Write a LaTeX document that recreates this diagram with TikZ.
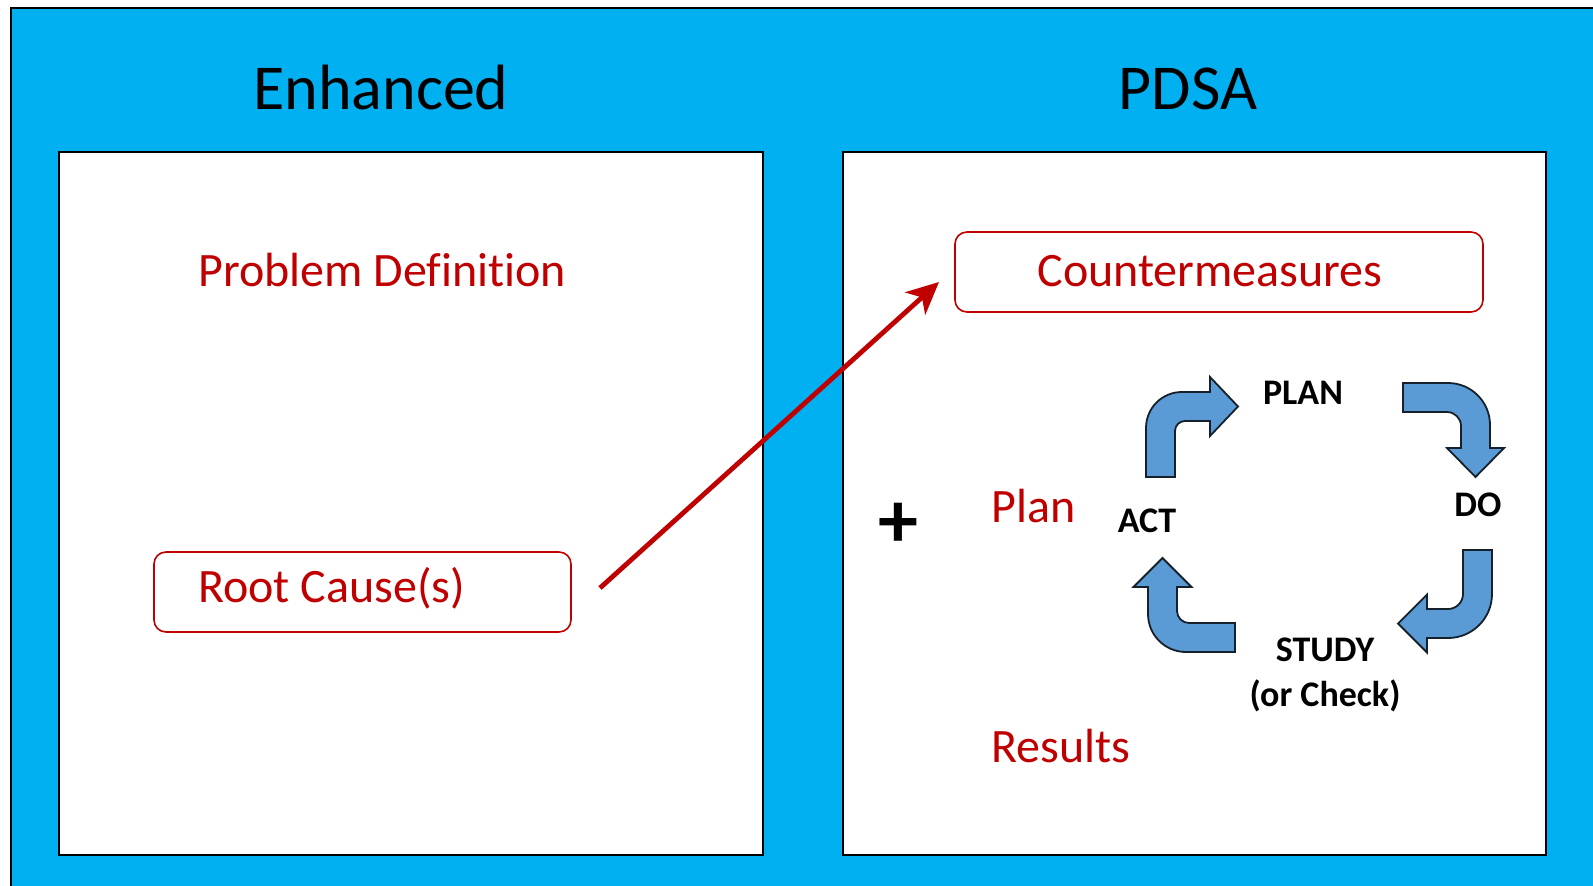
\documentclass[tikz,border=0pt]{standalone}
\usepackage{fontspec}
\setmainfont{Carlito}[Ligatures={NoCommon}]
\usetikzlibrary{arrows.meta}
\definecolor{skyfill}{HTML}{00B0F0}
\definecolor{darkred}{HTML}{C00000}
\definecolor{cycleblue}{HTML}{5B9BD5}
\definecolor{cycleedge}{HTML}{15202B}
\begin{document}
\begin{tikzpicture}[x=1pt,y=-1pt,
  panel/.style={draw=black,line width=2pt,fill=white},
  title/.style={anchor=base,font=\fontsize{64}{72}\selectfont,text=black,inner sep=0pt},
  redtext/.style={font=\fontsize{48}{55}\selectfont,text=darkred,inner sep=0pt},
  redbox/.style={draw=darkred,line width=1.6pt,rounded corners=12pt,fill=white},
  steplabel/.style={anchor=base,font=\fontsize{36}{41}\selectfont\bfseries,text=black,inner sep=0pt},
  cyclearrow/.style={fill=cycleblue,draw=cycleedge,line width=1.8pt,line join=miter},
  link/.style={draw=darkred,line width=4.8pt,-{Stealth[length=32pt,width=30pt,inset=9pt]}}
]
% page and blue backdrop
\useasboundingbox (0,0) rectangle (1593,886);
\fill[white] (0,0) rectangle (1593,886);
\filldraw[fill=skyfill,draw=black,line width=1.6pt] (11,8) rectangle (1605,900);

% two panels
\draw[panel] (59,152) rectangle (763,855);
\draw[panel] (843,152) rectangle (1546,855);

% headings
\node[title] (enh) at (381,109) {Enhanced};
\node[title] (pdsa) at (1188,109) {PDSA};

% left panel
\node[redtext,anchor=base west] (probdef) at (198,286) {Problem Definition};
\draw[redbox] (154,552) rectangle (571,632);
\node[redtext,anchor=base west] (root) at (198,602) {Root Cause(s)};

% right panel
\draw[redbox] (955,232) rectangle (1483,312);
\node[redtext,anchor=base] (cm) at (1210,286) {Countermeasures};
\node[anchor=base,font=\fontsize{80}{90}\selectfont\bfseries,inner sep=0pt] (plus) at (898,547) {+};
\node[redtext,anchor=base west] (plan) at (991,522) {Plan};
\node[redtext,anchor=base west] (res) at (991,762) {Results};

% cycle labels
\node[steplabel] (lp) at (1303,404) {PLAN};
\node[steplabel] (ld) at (1478,516) {DO};
\node[steplabel] (la) at (1147,532) {ACT};
\node[steplabel] (ls) at (1325,661) {STUDY};
\node[steplabel] (lc) at (1325,706) {(or Check)};

% cycle arrows
\draw[cyclearrow] (1146,477) -- (1146,428)
  .. controls (1146,408) and (1162,392) .. (1182,392) -- (1210,392) -- (1210,377)
  -- (1238,406.5) -- (1210,436) -- (1210,421) -- (1185,421)
  .. controls (1179.5,421) and (1175,425.5) .. (1175,431) -- (1175,477) -- cycle;
\draw[cyclearrow] (1403,383) -- (1448,383)
  .. controls (1471.2,383) and (1490,401.8) .. (1490,425) -- (1490,448) -- (1504,448)
  -- (1475.5,477) -- (1447,448) -- (1461,448) -- (1461,426)
  .. controls (1461,418.3) and (1454.7,412) .. (1447,412) -- (1403,412) -- cycle;
\draw[cyclearrow] (1463,550) -- (1492,550) -- (1492,594)
  .. controls (1492,618.3) and (1472.3,638) .. (1448,638) -- (1427,638) -- (1427,652.5)
  -- (1398,623.5) -- (1427,594.5) -- (1427,609) -- (1448,609)
  .. controls (1456.3,609) and (1463,602.3) .. (1463,594) -- cycle;
\draw[cyclearrow] (1235,623) -- (1235,652) -- (1186,652)
  .. controls (1165,652) and (1148,635) .. (1148,614) -- (1148,587) -- (1133.5,587)
  -- (1162.5,558) -- (1191.5,587) -- (1177,587) -- (1177,611)
  .. controls (1177,617.6) and (1182.4,623) .. (1189,623) -- cycle;

% link from root causes to countermeasures
\coordinate (linkstart) at (600,588);
\coordinate (linkend) at (939,282);
\draw[link] (linkstart) -- (linkend);
\end{tikzpicture}
\end{document}
